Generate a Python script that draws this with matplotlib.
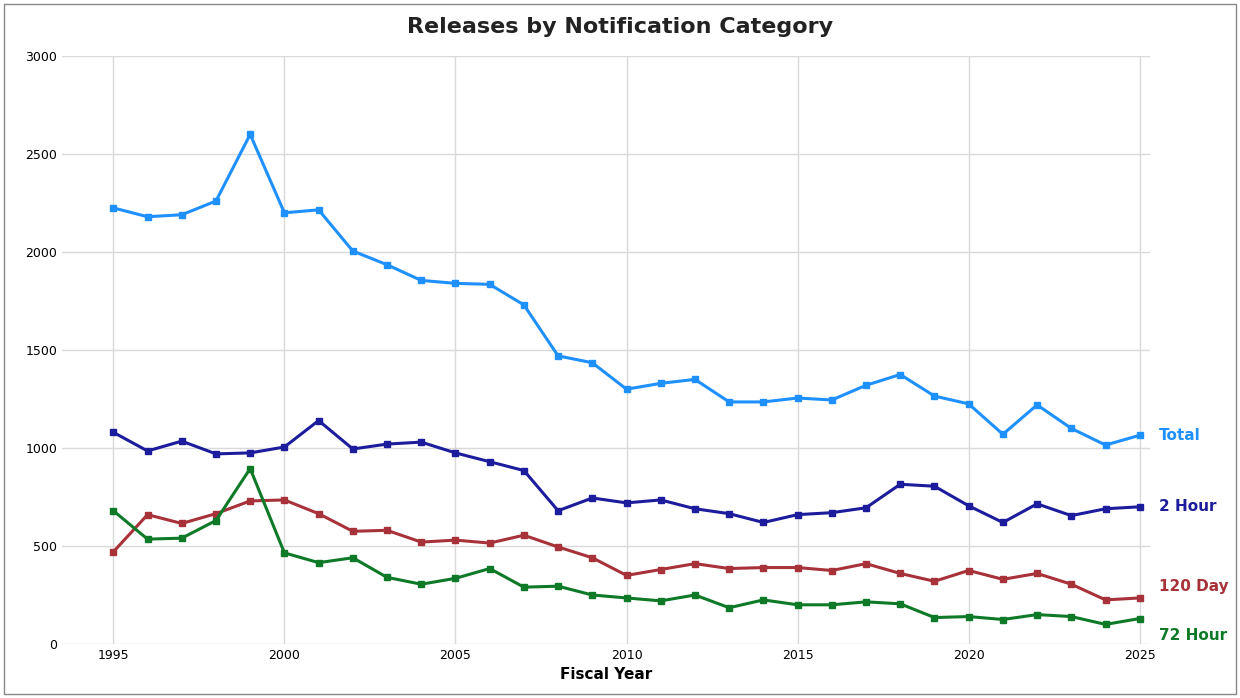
import matplotlib
matplotlib.use("Agg")
import matplotlib.pyplot as plt
from matplotlib.patches import Rectangle

years = list(range(1995, 2026))
total = [2225, 2180, 2190, 2260, 2600, 2200, 2215, 2005, 1935, 1855, 1840, 1835, 1730, 1470, 1435, 1300, 1330, 1350, 1235, 1235, 1255, 1245, 1320, 1375, 1265, 1225, 1070, 1220, 1100, 1015, 1065]
two_hour = [1080, 985, 1035, 970, 975, 1005, 1140, 995, 1020, 1030, 975, 930, 885, 680, 745, 720, 735, 690, 665, 620, 660, 670, 695, 815, 805, 705, 620, 715, 655, 690, 700]
day120 = [470, 660, 615, 665, 730, 735, 665, 575, 580, 520, 530, 515, 555, 495, 440, 350, 380, 410, 385, 390, 390, 375, 410, 360, 320, 375, 330, 360, 305, 225, 235]
hour72 = [680, 535, 540, 630, 895, 465, 415, 440, 340, 305, 335, 385, 290, 295, 250, 235, 220, 250, 185, 225, 200, 200, 215, 205, 135, 140, 125, 150, 140, 100, 130]

series = [("Total", total, "#1E90FF"), ("2 Hour", two_hour, "#1C1C9C"),
          ("120 Day", day120, "#A8323A"), ("72 Hour", hour72, "#0E7A28")]

fig = plt.figure(figsize=(12.4, 6.98), dpi=100)
ax = fig.add_axes([62/1240, 1-644/698, (1150-62)/1240, (644-56)/698])
fig.patches.append(Rectangle((4/1240, 4/698), 1-8/1240, 1-8/698, transform=fig.transFigure,
                             fill=False, edgecolor="#888888", linewidth=1))
for name, vals, c in series:
    ax.plot(years, vals, color=c, linewidth=2.2, marker="s", markersize=5)
    off = {"120 Day": 8, "72 Hour": -12}.get(name, 0)
    ax.annotate(name, (years[-1], vals[-1]), xytext=(14, off), textcoords="offset points",
                color=c, fontsize=11, fontweight="bold", va="center")
ax.set_xlim(1993.5, 2025.3)
ax.set_ylim(0, 3000)
ax.set_xticks(range(1995, 2026, 5))
ax.set_yticks(range(0, 3001, 500))
ax.tick_params(labelsize=9, length=0)
ax.grid(True, color="#d9d9d9", linewidth=1)
ax.set_axisbelow(True)
for s in ax.spines.values():
    s.set_visible(False)
ax.set_xlabel("Fiscal Year", fontsize=11, fontweight="bold", labelpad=4)
fig.suptitle("Releases by Notification Category", fontsize=16, fontweight="bold", y=0.975, color="#222222")
fig.savefig("out.png", dpi=100)
